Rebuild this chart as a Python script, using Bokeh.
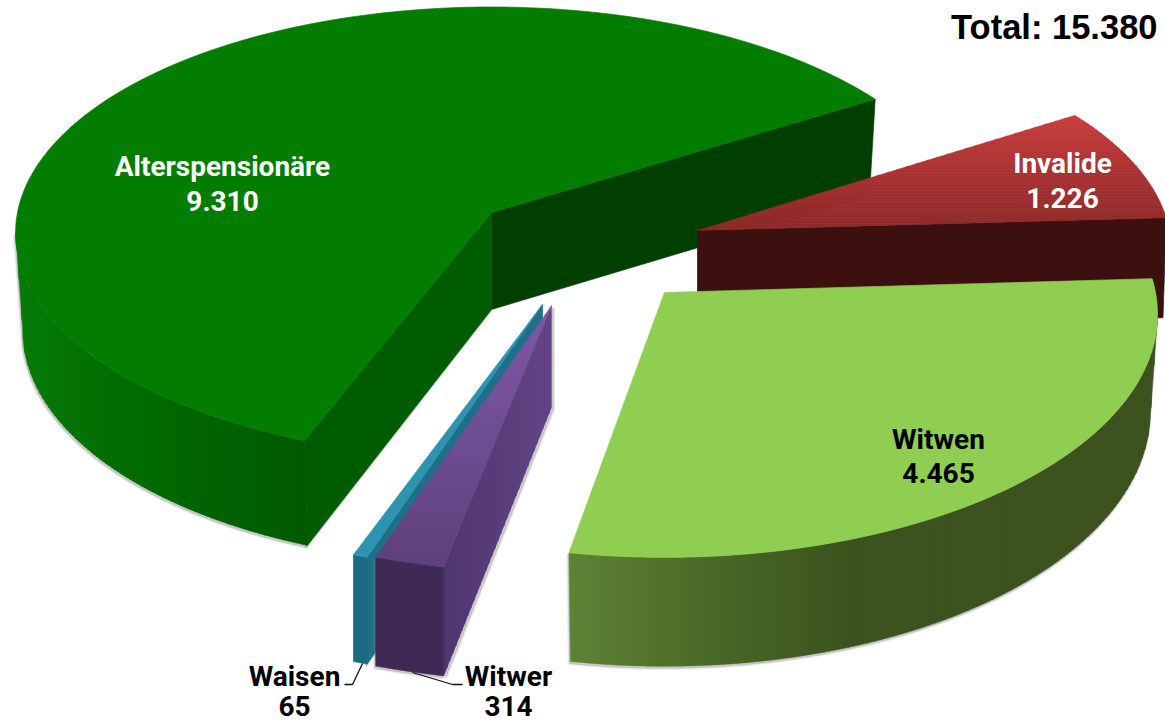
import math
from bokeh.plotting import figure
from bokeh.embed import file_html
from bokeh.resources import INLINE
from bokeh.core.properties import value
from bokeh.models import ColumnDataSource

categories = ["Invalide", "Witwen", "Witwer", "Waisen", "Alterspensionäre"]
values = [1226, 4465, 314, 65, 9310]
total_label = "Total: 15.380"

START = 32.0
P = 0.09
total = sum(values)


def hex2rgb(c):
    return tuple(int(c[i:i + 2], 16) for i in (1, 3, 5))


def grad(stops, t):
    if t <= stops[0][0]:
        return stops[0][1]
    for (a, ca), (b, cb) in zip(stops, stops[1:]):
        if t <= b:
            f = (t - a) / (b - a)
            r = [round(x + (y - x) * f) for x, y in zip(hex2rgb(ca), hex2rgb(cb))]
            return "#%02x%02x%02x" % tuple(r)
    return stops[-1][1]


class Slice:
    def __init__(self, X, Y, R, S, h0, k, s, a0, a1):
        self.X, self.Y, self.R, self.S = X, Y, R, S
        self.h0, self.k, self.s = h0, k, s
        self.a0, self.a1 = a0, a1

    def top(self, a):
        u, v = math.cos(math.radians(a)), -math.sin(math.radians(a))
        w = 1 - P * v
        return (self.X + self.R * u / w, self.Y + self.S * v / w)

    def bot(self, a):
        x, y = self.top(a)
        v = -math.sin(math.radians(a))
        return (self.X + self.s * (x - self.X), y + self.h0 + self.k * max(v, 0))

    def apex(self):
        return (self.X, self.Y)

    def apex_bot(self):
        return (self.X, self.Y + self.h0)

    def arc(self, a, b, fn, n=120):
        return [fn(a + (b - a) * i / n) for i in range(n + 1)]

    def sector(self, a=None, b=None):
        a = self.a0 if a is None else a
        b = self.a1 if b is None else b
        return [self.apex()] + self.arc(a, b, self.top)

    def outer(self, a, b):
        return self.arc(a, b, self.top) + self.arc(b, a, self.bot)

    def cut(self, a):
        return [self.apex(), self.top(a), self.bot(a), self.apex_bot()]


def clip(poly, axis, lo, hi):
    def half(pts, keep, inter):
        out = []
        for i, p in enumerate(pts):
            q = pts[(i + 1) % len(pts)]
            kp, kq = keep(p), keep(q)
            if kp:
                out.append(p)
            if kp != kq:
                out.append(inter(p, q))
        return out

    def mk(val):
        def inter(p, q):
            t = (val - p[axis]) / (q[axis] - p[axis])
            return (p[0] + (q[0] - p[0]) * t, p[1] + (q[1] - p[1]) * t)
        return inter

    pts = half(poly, lambda p: p[axis] >= lo, mk(lo))
    if pts:
        pts = half(pts, lambda p: p[axis] <= hi, mk(hi))
    return pts


xs, ys, fills, lines, widths, falpha, lalpha = [], [], [], [], [], [], []


def add(poly, color, lw=0.7, fa=1.0, la=1.0, line=None):
    if len(poly) < 3:
        return
    xs.append([p[0] for p in poly])
    ys.append([p[1] for p in poly])
    fills.append(color)
    lines.append(line or color)
    widths.append(lw)
    falpha.append(fa)
    lalpha.append(la)


def add_grad(poly, axis, stops, step=3):
    vals = [p[axis] for p in poly]
    lo, hi = min(vals), max(vals)
    t = lo
    while t < hi:
        add(clip(poly, axis, t, t + step + 0.4), grad(stops, t + step / 2), lw=0.4)
        t += step


def shadow(poly, dx=-1, dy=2):
    moved = [(x + dx, y + dy) for x, y in poly]
    add(moved, "#808080", lw=3.5, fa=0.12, la=0.12)
    add(moved, "#808080", lw=1.5, fa=0.2, la=0.2)


# angles from the values, running clockwise from START
ang = [START]
for val in values:
    ang.append(ang[-1] - 360.0 * val / total)
a_inv = (ang[0] + 1.0, ang[1])
a_wit = (ang[1], ang[2] + 1.0)
a_wer = (ang[2], ang[3])
a_wai = (ang[3], ang[4])
a_alt = (ang[4], ang[5])

green = Slice(491, 212, 474, 224, 97, 8.5, 0.985, *a_alt)
red = Slice(697, 230, 472, 222, 100, 0, 0.993, *a_inv)
lime = Slice(664, 292, 491, 241, 95, 14, 0.986, *a_wit)
violet = Slice(551, 305, 505, 243, 102, 7, 1.0, *a_wer)
teal = Slice(542, 304, 504, 244, 102, 5, 1.0, *a_wai)

# green slice (front edge slightly past its value angle, as drawn in perspective)
g_front = ang[4] + 360 - 1.1
g_back = ang[5] + 360
shadow(green.outer(g_front, 185))
shadow(green.cut(g_front))
add(green.cut(g_back), "#003f00")
add(green.cut(g_front), "#005c00")
add_grad(green.outer(g_front, 185), 0,
         [(15, "#067c06"), (120, "#016c01"), (240, "#006000"), (310, "#005a00")])
add(green.sector(g_front, g_back), "#037d00")

# red slice
add(red.cut(a_inv[1]), "#3d1010")
add_grad(red.sector(), 1, [(115, "#c93d3d"), (170, "#ab3232"), (232, "#8c2a2a")])

# lime slice
shadow(lime.outer(-6, a_wit[1]))
add_grad(lime.outer(a_wit[1], -6), 0,
         [(566, "#5f8436"), (700, "#4b6b28"), (850, "#3c531f"), (1160, "#3c531f")])
add(lime.sector(), "#8fce50")

# teal slice
shadow(teal.cut(a_wai[0]))
add(teal.cut(a_wai[0]), "#1f6f88")
add(teal.outer(a_wai[1], a_wai[0]), "#1e6a80")
add(teal.sector(), "#2e93b0")

# violet slice
shadow(violet.cut(a_wer[0]), dx=2, dy=2)
shadow(violet.outer(a_wer[1], a_wer[0]))
add_grad(violet.cut(a_wer[0]), 0, [(443, "#503670"), (551, "#634585")])
add(violet.outer(a_wer[1], a_wer[0]), "#3e2a55")
add_grad(violet.sector(), 1, [(305, "#7d58a5"), (440, "#6f4d92"), (568, "#5f3f7d")])

p = figure(width=1165, height=722, x_range=(0, 1165), y_range=(722, 0),
           output_backend="svg", toolbar_location=None, min_border=0)
p.axis.visible = False
p.grid.visible = False
p.outline_line_color = None

p.patches("xs", "ys", source=ColumnDataSource(dict(
    xs=xs, ys=ys, fill=fills, line=lines, lw=widths, fa=falpha, la=lalpha)),
    fill_color="fill", line_color="line", line_width="lw",
    fill_alpha="fa", line_alpha="la")

# leader lines
p.line([344, 352, 362], [684, 684, 663], line_color="#111111", line_width=1.3)
p.line([462, 452, 412], [684, 684, 672], line_color="#111111", line_width=1.3)


def num(v):
    return f"{v:,}".replace(",", ".")


lab_pos = {"Invalide": (1062, 163, 197, "#ffffff"),
           "Witwen": (938, 439, 472, "#000000"),
           "Witwer": (508, 676, 705, "#000000"),
           "Waisen": (294, 676, 705, "#000000"),
           "Alterspensionäre": (222, 166, 200, "#ffffff")}
for c, val in zip(categories, values):
    x, y1, y2, col = lab_pos[c]
    for y, t in ((y1, c), (y2, num(val))):
        p.text([x], [y], text=[t], text_font=value("Roboto"), text_font_style="bold",
               text_font_size="28px", text_color=col, text_align="center",
               text_baseline="middle")

p.text([1157], [26], text=[total_label], text_font=value("Liberation Sans"),
       text_font_style="bold", text_font_size="34.5px", text_color="#000000",
       text_align="right", text_baseline="middle")

open("out.html", "w").write(file_html(p, INLINE))
